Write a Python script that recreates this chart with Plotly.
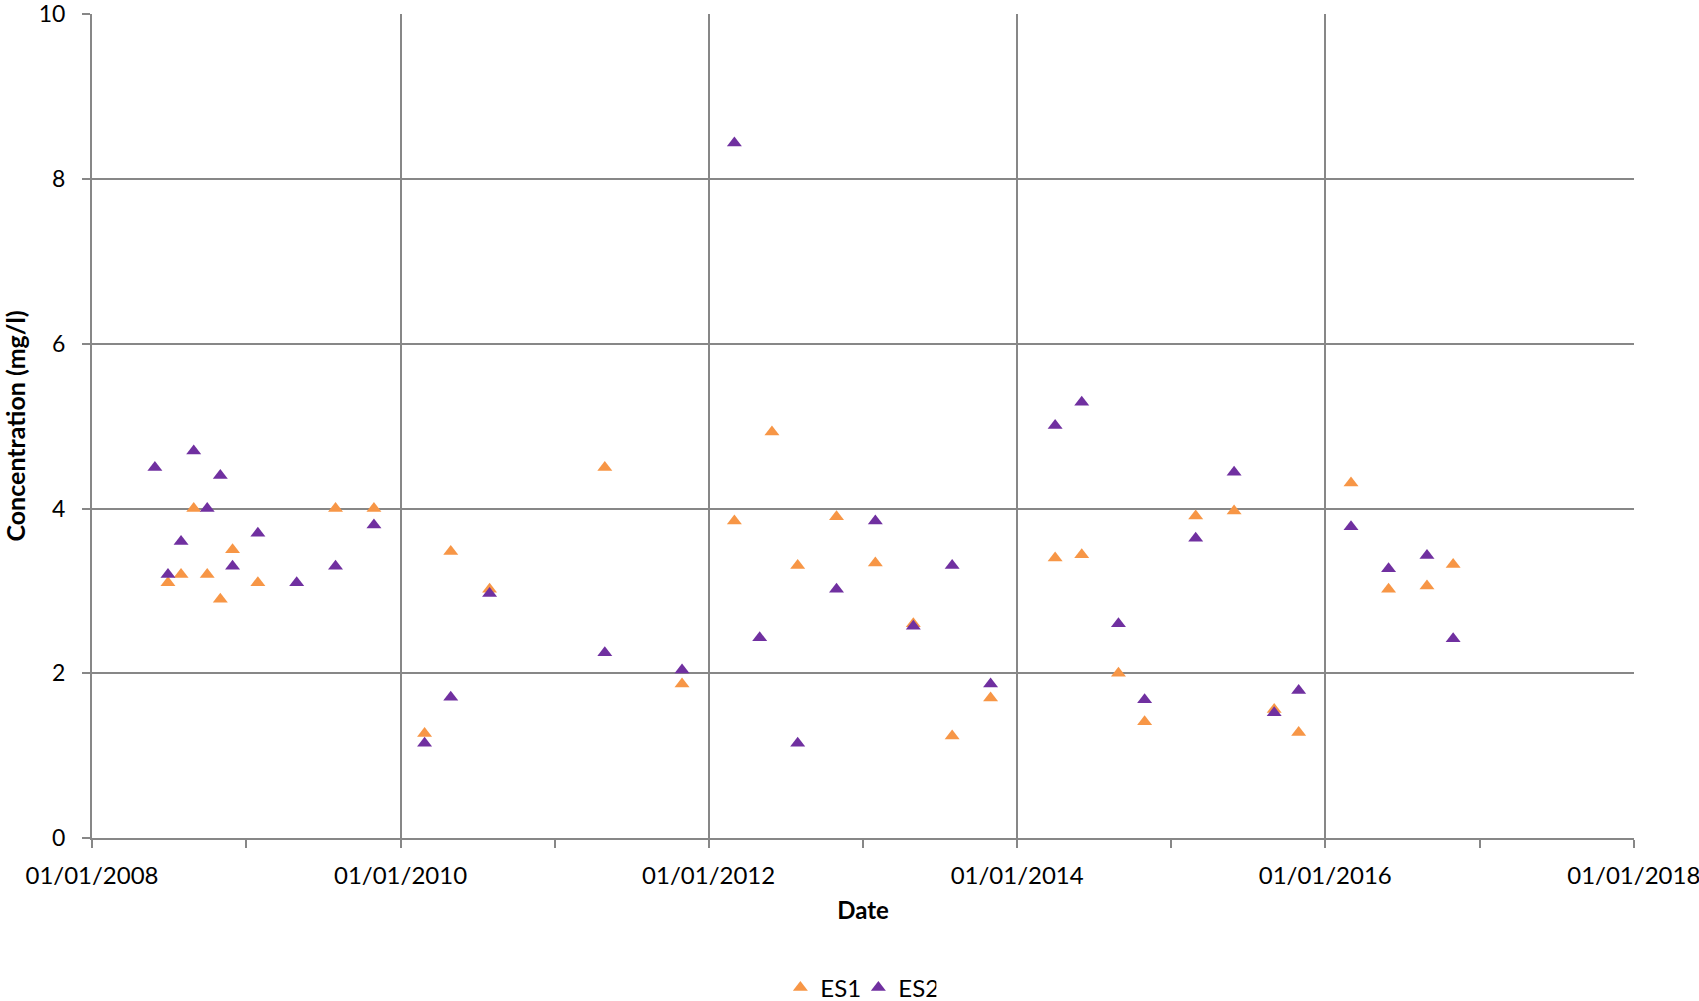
import plotly.graph_objects as go

# ES1 (orange)
es1_dates = ["2008-06-29", "2008-07-30", "2008-08-29", "2008-09-30", "2008-10-31", "2008-11-29",
             "2009-01-28", "2009-07-31", "2009-10-30", "2010-02-27", "2010-04-30", "2010-07-31",
             "2011-04-30", "2011-10-30", "2012-03-02", "2012-05-30", "2012-07-30", "2012-10-30",
             "2013-01-30", "2013-04-30", "2013-07-31", "2013-10-30", "2014-04-01", "2014-06-03",
             "2014-08-29", "2014-10-30", "2015-02-28", "2015-05-30", "2015-09-02", "2015-10-30",
             "2016-03-02", "2016-05-30", "2016-08-29", "2016-10-30"]
es1_values = [3.1, 3.2, 4.0, 3.2, 2.9, 3.5,
              3.1, 4.0, 4.0, 1.27, 3.48, 3.02,
              4.5, 1.87, 3.85, 4.93, 3.31, 3.9,
              3.34, 2.6, 1.24, 1.7, 3.4, 3.44,
              2.0, 1.41, 3.91, 3.97, 1.56, 1.28,
              4.31, 3.02, 3.06, 3.32]

# ES2 (purple)
es2_dates = ["2008-05-29", "2008-06-29", "2008-07-30", "2008-08-29", "2008-09-30", "2008-10-31",
             "2008-11-29", "2009-01-28", "2009-04-30", "2009-07-31", "2009-10-30", "2010-02-27",
             "2010-04-30", "2010-07-31", "2011-04-30", "2011-10-30", "2012-03-02", "2012-05-01",
             "2012-07-30", "2012-10-30", "2013-01-30", "2013-04-30", "2013-07-31", "2013-10-30",
             "2014-04-01", "2014-06-03", "2014-08-29", "2014-10-30", "2015-02-28", "2015-05-30",
             "2015-09-02", "2015-10-30", "2016-03-02", "2016-05-30", "2016-08-29", "2016-10-30"]
es2_values = [4.5, 3.2, 3.6, 4.7, 4.0, 4.4,
              3.3, 3.7, 3.1, 3.3, 3.8, 1.15,
              1.71, 2.97, 2.25, 2.04, 8.44, 2.43,
              1.15, 3.02, 3.85, 2.57, 3.31, 1.87,
              5.01, 5.29, 2.6, 1.68, 3.64, 4.44,
              1.52, 1.79, 3.78, 3.27, 3.43, 2.42]

FONT = "Lato, 'Open Sans', sans-serif"
GRID = "#878787"

fig = go.Figure()
fig.add_trace(go.Scatter(x=es1_dates, y=es1_values, mode="markers", name="ES1",
                         marker=dict(symbol="triangle-up", size=13, color="#F79646")))
fig.add_trace(go.Scatter(x=es2_dates, y=es2_values, mode="markers", name="ES2",
                         marker=dict(symbol="triangle-up", size=13, color="#7030A0")))

fig.update_layout(
    width=1699, height=1001,
    margin=dict(l=92, r=65, t=14, b=163, autoexpand=False),
    paper_bgcolor="white", plot_bgcolor="white",
    font=dict(family=FONT, size=24, color="#000000"),
    showlegend=True,
    legend=dict(orientation="h", x=0.497, xanchor="center", yref="container", y=0.013, yanchor="middle",
                font=dict(size=24), tracegroupgap=0, entrywidth=33),
    xaxis=dict(
        type="date", range=["2008-01-01", "2018-01-01 12:00"], automargin=False,
        tick0="2008-01-01", dtick="M24", tickformat="%d/%m/%Y",
        showgrid=True, gridcolor=GRID, gridwidth=2,
        showline=True, linecolor=GRID, linewidth=2,
        ticks="outside", ticklen=8, tickcolor=GRID, tickwidth=2,
        minor=dict(dtick="M12", ticks="outside", ticklen=8, tickcolor=GRID, tickwidth=2, showgrid=False),
        zeroline=False, ticklabeloverflow="allow",
        ticklabelstandoff=7,
        title=dict(text="<b>Date</b>", font=dict(size=24), standoff=14),
        tickfont=dict(size=24),
    ),
    yaxis=dict(
        range=[0, 10.005], dtick=2, automargin=False,
        showgrid=True, gridcolor=GRID, gridwidth=2,
        showline=True, linecolor=GRID, linewidth=2,
        ticks="outside", ticklen=8, tickcolor=GRID, tickwidth=2,
        zeroline=False, ticklabeloverflow="allow",
        ticklabelstandoff=12,
        title=dict(text="<b>Concentration (mg/l)</b>", font=dict(size=25), standoff=10),
        tickfont=dict(size=23),
    ),
)

fig.write_html("out.html")
